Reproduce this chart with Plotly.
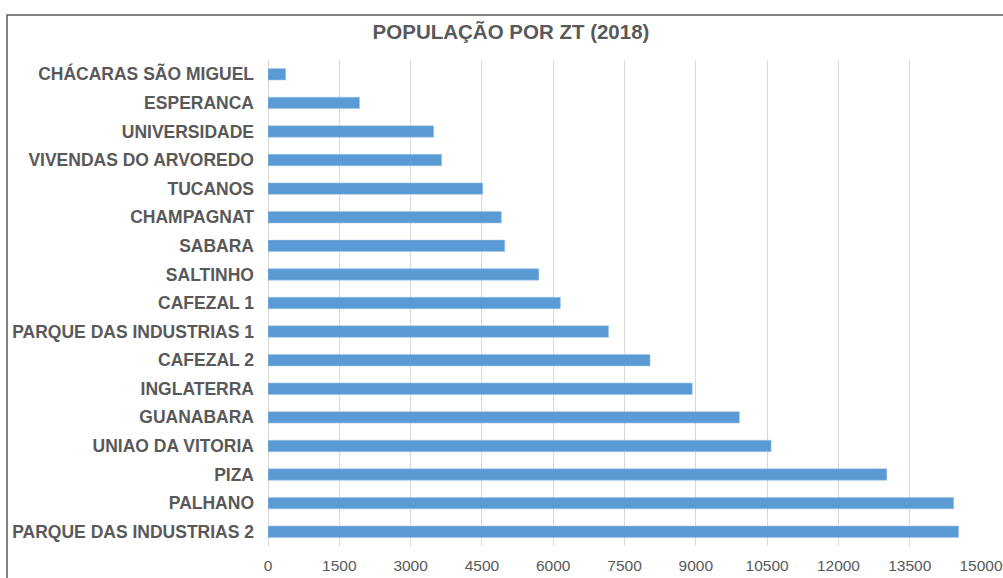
import plotly.graph_objects as go

categories = ["CHÁCARAS SÃO MIGUEL", "ESPERANCA", "UNIVERSIDADE", "VIVENDAS DO ARVOREDO",
              "TUCANOS", "CHAMPAGNAT", "SABARA", "SALTINHO", "CAFEZAL 1",
              "PARQUE DAS INDUSTRIAS 1", "CAFEZAL 2", "INGLATERRA", "GUANABARA",
              "UNIAO DA VITORIA", "PIZA", "PALHANO", "PARQUE DAS INDUSTRIAS 2"]
population = [372, 1925, 3485, 3653, 4517, 4909, 4980, 5697, 6150,
              7164, 8037, 8925, 9917, 10583, 13017, 14424, 14527]
x_ticks = [0, 1500, 3000, 4500, 6000, 7500, 9000, 10500, 12000, 13500, 15000]

L, R, T, B = 268, 21, 60, 32
W, H = 1003, 578
pw, ph = W - L - R, H - T - B

fig = go.Figure(go.Bar(
    x=population, y=categories, orientation="h",
    marker=dict(color="#5b9bd5", line=dict(color="#9dc3e6", width=0.5)),
))

fig.update_layout(
    width=W, height=H,
    margin=dict(l=L, r=R, t=T, b=B, autoexpand=False),
    paper_bgcolor="white", plot_bgcolor="white",
    bargap=0.6,
    showlegend=False,
    title=dict(text="<b>POPULAÇÃO POR ZT (2018)</b>", x=(511 - L) / pw, xref="paper", xanchor="center",
               y=1 - 32 / H, yanchor="middle",
               font=dict(family="Liberation Sans, Arial", size=20.5, color="#595959")),
    font=dict(family="Liberation Sans, Arial", color="#595959"),
    shapes=[dict(type="rect", xref="paper", yref="paper",
                 x0=(7 - L) / pw, x1=1.2, y0=-0.3, y1=(H - B - 15) / ph,
                 line=dict(color="#5a5a5a", width=1.5), fillcolor="rgba(0,0,0,0)", layer="below")],
)

fig.update_xaxes(range=[0, 15020], tickvals=x_ticks, ticktext=[str(v) for v in x_ticks],
                 showgrid=True, gridcolor="#d9d9d9", gridwidth=1,
                 zeroline=True, zerolinecolor="#d9d9d9", zerolinewidth=1,
                 showline=False, ticks="", ticklabelstandoff=8, automargin=False,
                 ticklabeloverflow="allow",
                 tickfont=dict(family="Liberation Sans, Arial", size=15.5, color="#595959"))
fig.update_yaxes(categoryorder="array", categoryarray=categories, autorange="reversed",
                 showgrid=False, showline=False, ticks="", ticklabelstandoff=13, automargin=False,
                 tickfont=dict(family="Liberation Sans, Arial", size=17.5, color="#595959"),
                 tickprefix="<b>", ticksuffix="</b>")

fig.write_html("out.html", config={"displayModeBar": False},
               post_script="document.body.style.margin='0';")
